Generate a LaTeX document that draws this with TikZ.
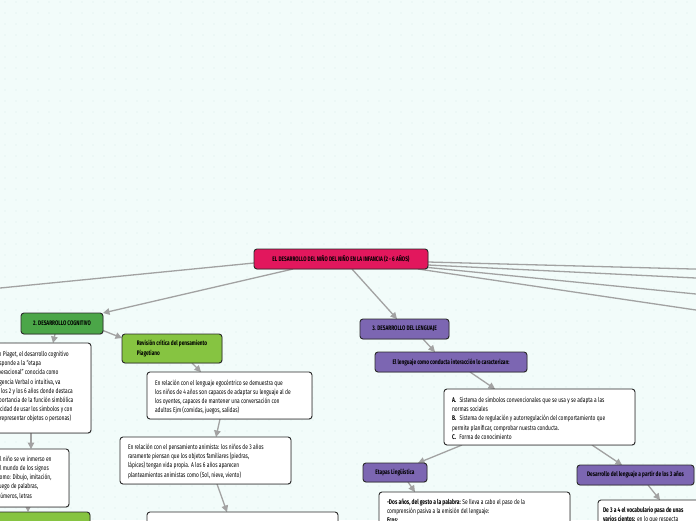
\documentclass[tikz,border=0pt]{standalone}
\usepackage{fontspec}
\newfontfamily\ff[FakeStretch=0.72]{Fira Sans}
\usetikzlibrary{arrows.meta,shadows}
\definecolor{bgc}{HTML}{F2FCFA}
\definecolor{dotc}{HTML}{D9EEEA}
\definecolor{bord}{HTML}{2A2A2A}
\definecolor{connc}{HTML}{A2A2A2}
\definecolor{pinkc}{HTML}{E2175D}
\definecolor{dgreen}{HTML}{4BA648}
\definecolor{lgreen}{HTML}{86C441}
\definecolor{purp}{HTML}{7C66B2}
\pgfdeclarelayer{bg}
\pgfdeclarelayer{lines}
\pgfsetlayers{bg,lines,main}
\tikzset{
  boxbase/.style={draw=bord, line width=0.9pt, rounded corners=3pt, anchor=north west, inner sep=0pt, outer sep=0pt, text=black, drop shadow={shadow xshift=0.6pt, shadow yshift=-0.9pt, opacity=0.28}},
  wbox/.style={boxbase, fill=white},
  hbox/.style={boxbase, align=center, font=\ff\bfseries\fontsize{6.6}{9.4}\selectfont},
  ltxt/.style={anchor=north west, inner sep=0pt, outer sep=0pt, align=left, text=black, font=\ff\fontsize{6.8}{9.2}\selectfont},
  conn/.style={draw=connc, line width=1.3pt},
  arr/.style={conn, -{Triangle[length=6.5pt,width=6.5pt]}},
}
\begin{document}
\begin{tikzpicture}[x=1pt,y=-1pt]
\useasboundingbox (0,0) rectangle (696,520);
\begin{pgfonlayer}{bg}
\fill[bgc] (0,0) rectangle (696,520);
\foreach \i in {0,...,63}{\foreach \j in {0,...,47}{\fill[dotc] (5+11*\i,2+11*\j) circle (0.65);}}
\end{pgfonlayer}
\clip (0,0) rectangle (696,520);

% heading boxes
\node[hbox, fill=pinkc, minimum width=174pt, minimum height=20pt] (C) at (254,249) {EL DESARROLLO DEL NIÑO DEL NIÑO EN LA INFANCIA (2 - 6 AÑOS)};
\node[hbox, fill=dgreen, minimum width=82pt, minimum height=21pt] (cog) at (21,313) {2. DESARROLLO COGNITIVO};
\node[hbox, fill=lgreen, minimum width=100pt, minimum height=29pt, align=left] (rev) at (122,334) {Revisión crítica del pensamiento\\Piagetiano};
\node[hbox, fill=purp, minimum width=89pt, minimum height=20pt] (len) at (360,319) {3. DESARROLLO DEL LENGUAJE};
\node[hbox, fill=purp, minimum width=152pt, minimum height=20pt] (cond) at (375,352) {El lenguaje como conducta interacción lo caracterizan:};
\node[hbox, fill=purp, minimum width=64pt, minimum height=19pt] (etap) at (363,463) {Etapas Lingüística};
\node[hbox, fill=purp, minimum width=117pt, minimum height=20pt] (des3) at (577,465) {Desarrollo del lenguaje a partir de los 3 años};
\node[hbox, fill=lgreen, minimum width=110pt, minimum height=30pt] (gbl) at (-20,512) {};

% white boxes
\node[wbox, minimum width=113pt, minimum height=90pt] (piag) at (-22,343) {};
\node[ltxt] (piag-t) at (-12,351) {Según Piaget, el desarrollo cognitivo\\corresponde a la “etapa\\preoperacional” conocida como\\inteligencia Verbal o intuitiva, va\\entre los 2 y los 6 años donde destaca\\la importancia de la función simbólica\\(capacidad de usar los símbolos y con\\ellos representar objetos o personas)};
\node[wbox, minimum width=81.5pt, minimum height=58pt] (nino) at (-12.5,449) {};
\node[ltxt] (nino-t) at (-2.5,456) {El niño se ve inmerso en\\el mundo de los signos\\como: Dibujo, imitación,\\juego de palabras,\\números, letras};
\node[wbox, minimum width=165pt, minimum height=47pt] (ego) at (147,372) {};
\node[ltxt] (ego-t) at (155,379.7) {En relación con el lenguaje egocéntrico se demuestra que\\los niños de 4 años son capaces de adaptar su lenguaje al de\\los oyentes, capaces de mantener una conversación con\\adultos Ejm (comidas, juegos, salidas)};
\node[wbox, minimum width=171pt, minimum height=47pt] (anim) at (120,437) {};
\node[ltxt] (anim-t) at (128,444) {En relación con el pensamiento animista: los niños de 3 años\\raramente piensan que los objetos familiares (piedras,\\lápices) tengan vida propia. A los 6 años aparecen\\planteamientos animistas como (Sol, nieve, viento)};
\node[wbox, minimum width=191pt, minimum height=30pt] (low) at (147,512) {};
\node[wbox, minimum width=191pt, minimum height=56pt] (abc) at (444,389) {};
\node[ltxt] (abc-t) at (452,397) {\textbf{A.}\enspace Sistema de símbolos convencionales que se usa y se adapta a las\\normas sociales\\\textbf{B.}\enspace Sistema de regulación y autorregulación del comportamiento que\\permite planificar, comprobar nuestra conducta.\\\textbf{C.}\enspace Forma de conocimiento};
\node[wbox, minimum width=191pt, minimum height=40pt] (dos) at (379,492) {};
\node[ltxt] (dos-t) at (387,499) {\textbf{-Dos años, del gesto a la palabra:} Se lleva a cabo el paso de la\\comprensión pasiva a la emisión del lenguaje:\\\textbf{Ecos:}};
\node[wbox, minimum width=110pt, minimum height=40pt] (de34) at (598,500) {};
\node[ltxt] (de34-t) at (603,507) {\textbf{De 3 a 4 el vocabulario pasa de unas}\\\textbf{varios cientos:} en lo que respecta};

\coordinate (offL) at (-10,289);
\coordinate (offR1) at (700,269.2);
\coordinate (offR2) at (700,278.2);
\coordinate (offR3) at (700,294.4);
\coordinate (offR4) at (700,310.6);

\begin{pgfonlayer}{lines}
\clip (0,0) rectangle (696,520);
\draw[conn] ([yshift=-4pt]C.west) -- (offL);
\draw[conn] ([yshift=-3pt]C.east) -- (offR1);
\draw[conn] ([yshift=-6pt]C.east) -- (offR2);
\draw[conn] ([yshift=-8.5pt]C.east) -- (offR3);
\draw[conn] ([xshift=-10pt]C.south east) -- (offR4);
\draw[arr] ([xshift=39pt]C.south west) -- (cog.north east);
\draw[arr] ([xshift=98pt]C.south west) -- ([xshift=37pt]len.north west);
\draw[arr] ([yshift=-7pt]cog.east) -- ([yshift=10.5pt]rev.west);
\draw[arr] ([xshift=34pt]cog.south west) -- ([xshift=75pt]piag.north west);
\draw[arr] ([xshift=53pt]piag.south west) -- ([xshift=43.5pt]nino.north west);
\draw[arr] ([xshift=40.5pt]nino.south west) -- ([xshift=48pt]gbl.north west);
\draw[arr] ([xshift=70pt]rev.south west) -- ([xshift=54pt]ego.north west);
\draw[arr] ([xshift=73pt]ego.south west) -- ([xshift=96pt]anim.north west);
\draw[arr] ([xshift=97pt]anim.south west) -- ([xshift=80pt]low.north west);
\draw[arr] ([xshift=63pt]len.south west) -- ([xshift=60pt]cond.north west);
\draw[arr] ([xshift=95pt]cond.south west) -- ([xshift=51pt]abc.north west);
\draw[arr] ([xshift=18pt]abc.south west) -- ([xshift=55pt]etap.north west);
\draw[arr] ([xshift=148pt]abc.south west) -- ([xshift=45pt]des3.north west);
\draw[arr] ([xshift=45pt]etap.south west) -- ([xshift=36pt]dos.north west);
\draw[arr] ([xshift=71pt]des3.south west) -- ([xshift=62pt]de34.north west);
\end{pgfonlayer}
\end{tikzpicture}
\end{document}
